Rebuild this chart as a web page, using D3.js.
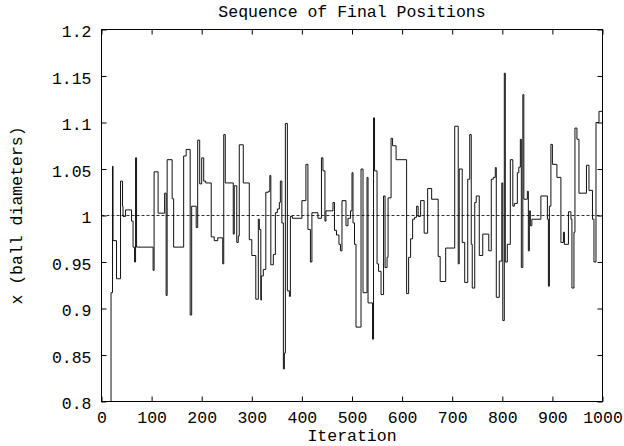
<!DOCTYPE html>
<html>
<head>
<meta charset="utf-8">
<script src="https://cdn.jsdelivr.net/npm/d3@7"></script>
<style>
  html, body { margin: 0; padding: 0; background: #fff; }
  svg { display: block; }
  text { font-family: "Liberation Mono", "DejaVu Sans Mono", monospace; fill: #000; }
</style>
</head>
<body>
<svg id="chart" width="624" height="446"></svg>
<script>
// ---- data (change points of the final-position sequence) ----
const iterations = [0,19,22,23,30,38,42,43,48,60,63,66,68,70,103,105,113,126,129,131,141,144,164,169,177,180,189,192,196,200,204,208,219,225,232,242,244,247,263,265,270,273,275,283,295,300,308,313,315,318,319,323,328,333,336,338,343,347,351,355,357,360,363,365,367,371,375,377,381,400,408,412,417,420,432,439,442,446,448,462,465,469,474,477,480,488,492,497,500,502,505,508,518,522,530,532,541,543,545,550,553,558,563,566,570,572,578,581,588,609,613,617,621,625,629,632,637,644,651,659,672,676,687,705,712,714,720,725,731,735,738,740,745,748,754,761,773,778,782,786,788,794,799,801,804,806,810,816,821,824,830,833,836,838,841,843,850,852,854,856,859,877,890,892,894,897,900,909,917,922,924,932,937,939,943,945,949,953,968,973,980,983,987,993,1000];
const positions = [0.70,0.917,1.053,0.973,0.932,1.037,1.010,0.999,1.006,0.994,0.966,0.950,1.062,0.966,0.941,1.047,1.0025,1.024,0.914,1.060,1.018,0.966,1.064,1.071,0.893,1.010,0.987,1.081,1.034,1.062,1.037,1.035,0.977,0.973,0.976,0.948,1.087,1.035,0.980,1.032,0.971,0.978,1.076,1.035,0.974,0.957,0.910,0.996,0.985,0.909,0.935,0.942,1.025,1.026,1.043,0.947,0.958,1.003,1.007,1.014,1.037,0.992,0.835,0.852,1.099,0.919,0.913,0.999,0.997,1.016,1.055,0.985,0.950,1.003,0.997,1.062,1.048,0.994,1.005,1.014,0.984,0.979,0.969,0.962,1.016,0.989,0.997,1.005,1.046,0.992,0.969,0.880,1.050,0.917,1.041,0.906,0.867,1.105,1.048,0.948,0.940,0.915,1.021,0.944,0.955,1.019,1.083,1.075,1.060,0.916,0.955,0.975,0.996,0.998,1.010,0.999,1.016,0.981,1.029,1.0175,0.956,0.929,0.965,1.096,0.948,1.050,0.971,0.928,1.039,1.087,0.969,0.922,1.014,1.021,0.957,0.980,0.962,1.039,1.041,1.0515,0.912,0.951,1.035,0.887,1.153,0.950,0.969,1.060,1.010,1.013,1.046,1.052,1.082,0.944,1.130,1.0175,1.026,0.962,1.005,0.989,0.996,1.021,0.996,0.924,1.010,1.0765,1.055,1.041,0.971,0.982,0.969,1.004,0.996,0.922,0.982,1.094,1.082,1.024,1.054,1.027,0.996,0.950,1.100,1.112,1.112];
const reference = [1.0, 1.0];
const xTicks = [0,100,200,300,400,500,600,700,800,900,1000];
const yTicks = [0.8,0.85,0.9,0.95,1,1.05,1.1,1.15,1.2];
const yTickLabels = ["0.8","0.85","0.9","0.95","1","1.05","1.1","1.15","1.2"];
const titleText = "Sequence of Final Positions";
const xLabel = "Iteration";
const yLabel = "x (ball diameters)";

// ---- layout ----
const L = 101.5, R = 602.5, T = 29.5, B = 401.5;
const svg = d3.select("#chart");
const x = d3.scaleLinear().domain([0, 1000]).range([L, R]);
const y = d3.scaleLinear().domain([0.8, 1.2]).range([B, T]);
const FS = 16.5;

svg.append("defs").append("clipPath").attr("id", "plotclip")
  .append("rect").attr("x", L).attr("y", T).attr("width", R - L).attr("height", B - T);

// reference dashed line at 1
svg.append("line")
  .attr("x1", x(0)).attr("x2", x(1000))
  .attr("y1", y(reference[0])).attr("y2", y(reference[1]))
  .attr("stroke", "#333").attr("stroke-width", 1).attr("stroke-dasharray", "3,2");

// data line
const pts = iterations.map((it, i) => [it, positions[i]]);
const line = d3.line().x(d => x(d[0])).y(d => y(d[1])).curve(d3.curveStepAfter);
svg.append("path").datum(pts)
  .attr("clip-path", "url(#plotclip)")
  .attr("d", line)
  .attr("fill", "none").attr("stroke", "#111").attr("stroke-width", 1);

// axes (inward ticks, mirrored)
function styleAxis(g) {
  g.select(".domain").remove();
  g.selectAll(".tick line").attr("stroke", "#000");
  g.selectAll("text").attr("font-family", "Liberation Mono, monospace").attr("font-size", FS).attr("fill", "#000");
}
const gl = svg.append("g").attr("transform", `translate(${L},0)`)
  .call(d3.axisLeft(y).tickValues(yTicks).tickFormat((d, i) => yTickLabels[i]).tickSize(-5).tickPadding(10));
styleAxis(gl);
gl.selectAll("text").attr("dy", "0.45em");
const gb = svg.append("g").attr("transform", `translate(0,${B})`)
  .call(d3.axisBottom(x).tickValues(xTicks).tickFormat(d3.format("d")).tickSize(-5).tickPadding(10));
styleAxis(gb);
const gr = svg.append("g").attr("transform", `translate(${R},0)`)
  .call(d3.axisRight(y).tickValues(yTicks).tickFormat("").tickSize(-5));
styleAxis(gr);
const gt = svg.append("g").attr("transform", `translate(0,${T})`)
  .call(d3.axisTop(x).tickValues(xTicks).tickFormat("").tickSize(-5));
styleAxis(gt);

// border
svg.append("rect").attr("x", L).attr("y", T).attr("width", R - L).attr("height", B - T)
  .attr("fill", "none").attr("stroke", "#000").attr("stroke-width", 1);

// texts
svg.append("text").attr("x", (L + R) / 2).attr("y", 16.5).attr("text-anchor", "middle")
  .attr("font-size", FS).text(titleText);
svg.append("text").attr("x", (L + R) / 2).attr("y", 441).attr("text-anchor", "middle")
  .attr("font-size", FS).text(xLabel);
svg.append("text").attr("transform", `translate(22,${(T + B) / 2}) rotate(-90)`)
  .attr("text-anchor", "middle").attr("font-size", FS).text(yLabel);
</script>
</body>
</html>
